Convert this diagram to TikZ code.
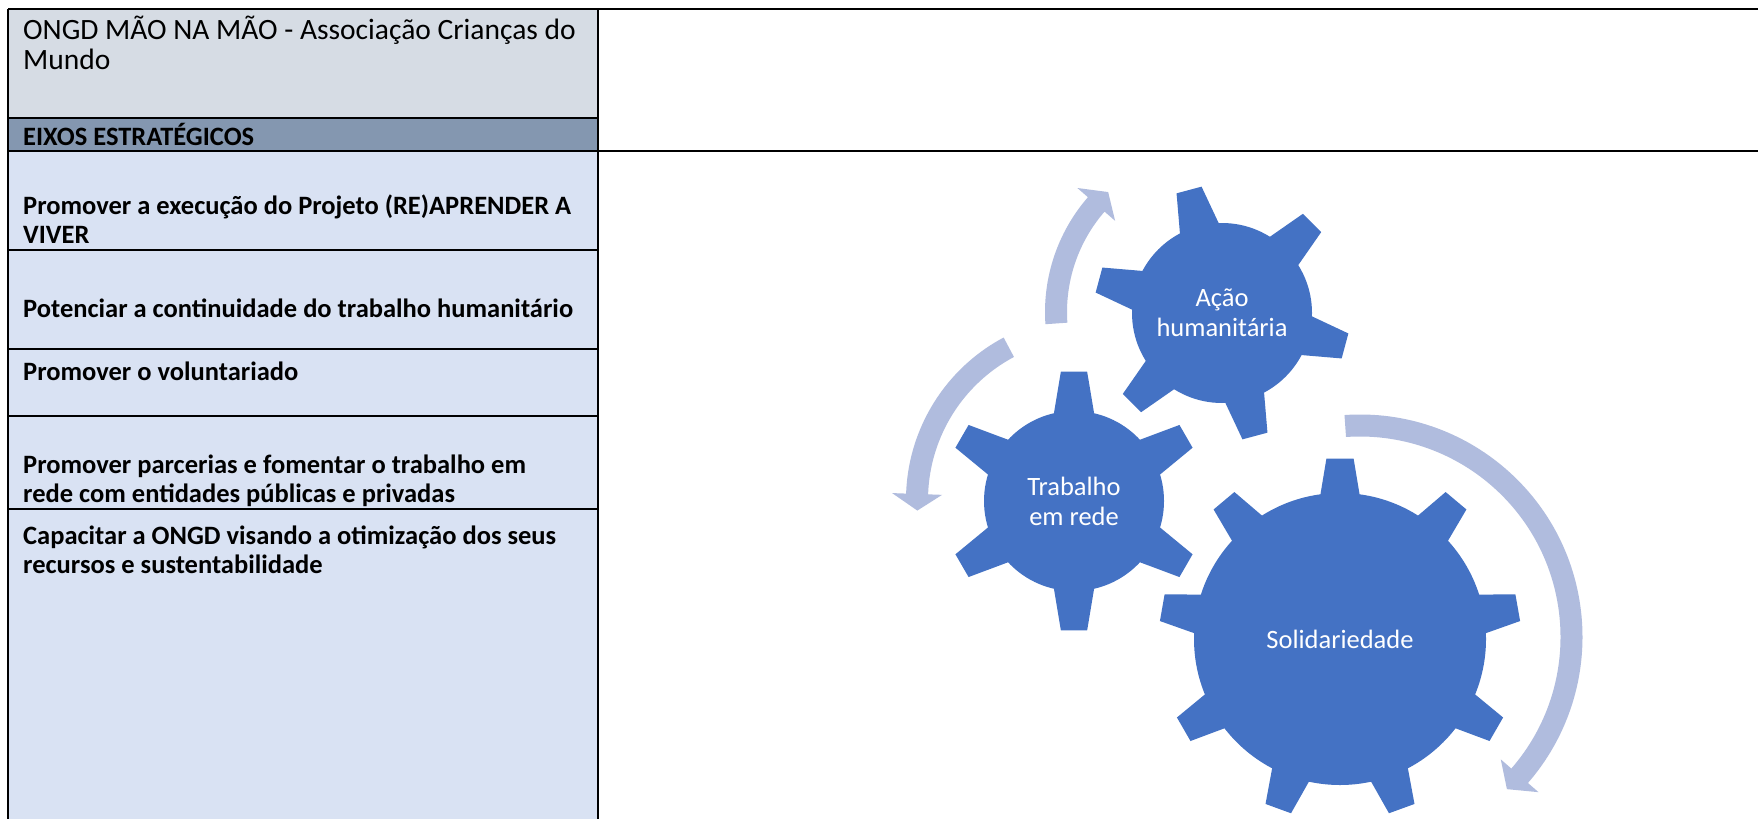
\documentclass[tikz,border=0pt]{standalone}
\usepackage{fontspec}
\setmainfont{Carlito}
\usepackage{tikz}
\definecolor{gearblue}{RGB}{68,114,196}
\definecolor{arrowblue}{RGB}{176,188,222}
\definecolor{headgray}{RGB}{214,220,228}
\definecolor{eixosgray}{RGB}{132,151,176}
\definecolor{cellblue}{RGB}{217,226,243}

% gear: center, body radius, tip radius, teeth, first angle, base half-angle, tip half-angle
\newcommand{\drawgear}[7]{%
  \fill[gearfill] (#1) circle[radius=#2];
  \foreach \k in {1,...,#4}{%
    \pgfmathsetmacro{\toothang}{#5+360/#4*(\k-1)}%
    \fill[gearfill] ([shift={({\toothang-#6}:{#2-4})}]#1) -- ([shift={({\toothang-#7}:#3)}]#1)
      -- ([shift={({\toothang+#7}:#3)}]#1) -- ([shift={({\toothang+#6}:{#2-4})}]#1) -- cycle;
  }%
}
% circular arrow: center, mid radius, start angle, head angle, tip angle
\newcommand{\drawcircarrow}[5]{%
  \pgfmathsetmacro{\ro}{#2+11}\pgfmathsetmacro{\ri}{#2-11}%
  \pgfmathsetmacro{\rbo}{#2+25}\pgfmathsetmacro{\rbi}{#2-25}%
  \fill[arrowfill] ([shift={(#3:\ro)}]#1) arc[start angle=#3, end angle=#4, radius=\ro]
    -- ([shift={(#4:\rbo)}]#1) -- ([shift={(#5:#2)}]#1) -- ([shift={(#4:\rbi)}]#1)
    -- ([shift={(#4:\ri)}]#1) arc[start angle=#4, end angle=#3, radius=\ri] -- cycle;
}

\begin{document}
\begin{tikzpicture}[
    x=1pt, y=-1pt,
    gearfill/.style={fill=gearblue},
    arrowfill/.style={fill=arrowblue},
    gridline/.style={draw=black, line width=2.6pt},
    titletext/.style={font=\fontsize{29.5}{30}\selectfont, anchor=west, align=left, inner sep=0pt},
    celltext/.style={font=\fontsize{26.5}{29}\selectfont\bfseries, anchor=west, align=left, inner sep=0pt},
    geartext/.style={font=\fontsize{26.5}{30}\selectfont, text=white, align=center}
]
    \useasboundingbox (0,0) rectangle (1758,819);
    \fill[white] (0,0) rectangle (1758,819);

    % table
    \fill[headgray] (8,9) rectangle (598,118);
    \fill[eixosgray] (8,118) rectangle (598,151);
    \fill[cellblue] (8,151) rectangle (598,819);
    \draw[gridline] (8,9) -- (1758,9);
    \draw[gridline] (8,151) -- (1758,151);
    \draw[gridline] (8,118) -- (598,118);
    \foreach \yy in {250,349,416,509}
        \draw[gridline] (8,\yy) -- (598,\yy);
    \draw[gridline] (8,9) -- (8,819);
    \draw[gridline] (598,9) -- (598,819);

    \node[titletext] (ongd) at (23,43) {ONGD MÃO NA MÃO - Associação Crianças do\\Mundo};
    \node[celltext] (eixos) at (23,134.5) {EIXOS ESTRATÉGICOS};
    \node[celltext] (eixo1) at (23,219) {Promover a execução do Projeto (RE)APRENDER A\\VIVER};
    \node[celltext] (eixo2) at (23,308) {Potenciar a continuidade do trabalho humanitário};
    \node[celltext] (eixo3) at (23,371) {Promover o voluntariado};
    \node[celltext] (eixo4) at (23,480.5) {Promover parcerias e fomentar o trabalho em\\rede com entidades públicas e privadas};
    \node[celltext] (eixo5) at (23,550) {Capacitar a ONGD visando a otimização dos seus\\recursos e sustentabilidade};

    % gears and arrows
    \coordinate (gearA) at (1222,313);
    \coordinate (gearB) at (1074,501);
    \coordinate (gearC) at (1340,639);
    \coordinate (arrA) at (1220,312);
    \coordinate (arrB) at (1090,500);
    \coordinate (arrC) at (1360,637);

    \drawcircarrow{arrA}{164}{176}{221}{227}
    \drawcircarrow{arrB}{173}{242}{182}{176.5}
    \drawcircarrow{arrC}{211.5}{-94}{41}{46}

    \drawgear{gearA}{90}{128}{6}{15}{14}{5.8}
    \drawgear{gearB}{90}{130}{6}{-90}{14}{5.8}
    \drawgear{gearC}{146}{181}{9}{-90}{8.2}{4.3}

    \node[geartext] (acao) at (gearA) {Ação\\humanitária};
    \node[geartext] (rede) at (gearB) {Trabalho\\em rede};
    \node[geartext] (solid) at (gearC) {Solidariedade};
\end{tikzpicture}
\end{document}
